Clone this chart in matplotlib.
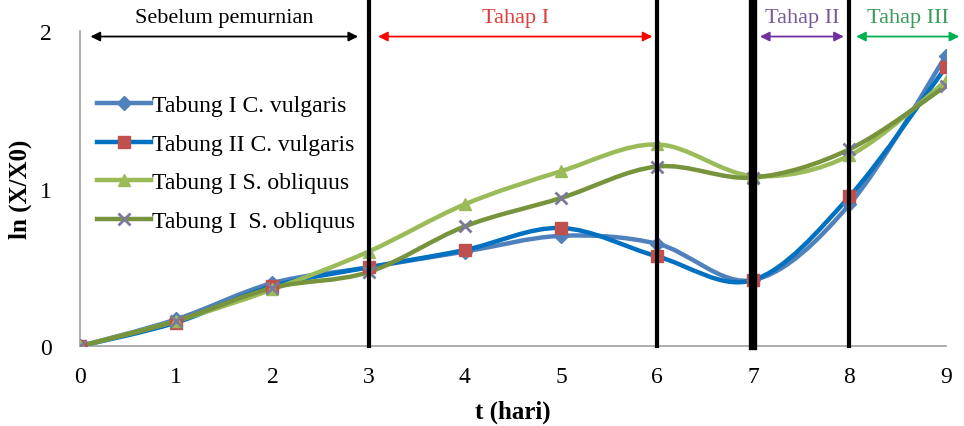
import numpy as np
import matplotlib
matplotlib.use("Agg")
import matplotlib.pyplot as plt
from matplotlib.path import Path
from matplotlib.patches import PathPatch
from matplotlib.lines import Line2D

plt.rcParams['font.family'] = ['Liberation Serif', 'DejaVu Serif']

# data
t = [0, 1, 2, 3, 4, 5, 6, 7, 8, 9]
cv1 = [0.0, 0.17, 0.40, 0.50, 0.60, 0.70, 0.65, 0.42, 0.90, 1.84]
cv2 = [0.0, 0.15, 0.38, 0.50, 0.61, 0.75, 0.57, 0.42, 0.95, 1.77]
so1 = [0.0, 0.16, 0.36, 0.60, 0.90, 1.11, 1.28, 1.08, 1.21, 1.68]
so2 = [0.0, 0.16, 0.37, 0.47, 0.76, 0.94, 1.14, 1.07, 1.25, 1.65]
labels = ['Tabung I C. vulgaris', 'Tabung II C. vulgaris',
          'Tabung I S. obliquus', 'Tabung I  S. obliquus']

stage_lines = [3, 6, 7, 8]
stage_names = ['Sebelum pemurnian', 'Tahap I', 'Tahap II', 'Tahap III']
stage_ranges = [(0.08, 2.92), (3.07, 5.98), (7.04, 7.97), (8.04, 9.17)]
arrow_cols = ['black', '#FF0000', '#7030A0', '#00B050']
text_cols = ['black', '#E03C3C', '#7A5A9A', '#3A9A5A']


def smooth_path(x, y):
    # excel-like smoothed line: catmull-rom segments as cubic bezier
    pts = np.column_stack([x, y]).astype(float)
    n = len(pts)
    verts = [pts[0]]
    codes = [Path.MOVETO]
    for i in range(n - 1):
        p0 = pts[i - 1] if i > 0 else pts[i]
        p1 = pts[i]
        p2 = pts[i + 1]
        p3 = pts[i + 2] if i + 2 < n else pts[i + 1]
        c1 = p1 + (p2 - p0) / 6
        c2 = p2 - (p3 - p1) / 6
        verts += [c1, c2, p2]
        codes += [Path.CURVE4] * 3
    return Path(verts, codes)


fig = plt.figure(figsize=(9.64, 4.27), dpi=100)
ax = fig.add_axes([0.083, 0.187, 0.898, 0.738])

series = [
    (cv1, '#4F81BD', 'D', '#4F81BD', 7),
    (cv2, '#0070C0', 's', '#C0504D', 8),
    (so1, '#9BBB59', '^', '#9BBB59', 8),
    (so2, '#77933C', 'x', '#7D7A99', 8),
]

handles = []
for (vals, lc, mk, mc, ms), lab in zip(series, labels):
    ax.add_patch(PathPatch(smooth_path(t, vals), facecolor='none',
                           edgecolor=lc, lw=3.2, zorder=3))
    ax.plot(t, vals, linestyle='none', marker=mk, color=mc, ms=ms,
            mew=2 if mk == 'x' else 1, zorder=4)
    handles.append(Line2D([], [], color=lc, lw=3.2, marker=mk,
                          markerfacecolor=mc, markeredgecolor=mc, ms=ms,
                          mew=2 if mk == 'x' else 1))

for xv in stage_lines:
    ax.plot([xv, xv], [0, 2.25], color='black', lw=6 if xv == 7 else 3,
            clip_on=False, zorder=5)

for (x0, x1), name, c, tc in zip(stage_ranges, stage_names, arrow_cols, text_cols):
    ax.annotate('', xy=(x0, 1.965), xytext=(x1, 1.965),
                arrowprops=dict(arrowstyle='<|-|>', color=c, lw=1.3,
                                mutation_scale=14),
                annotation_clip=False)
    ax.text((x0 + x1) / 2, 2.025, name, ha='center', va='bottom',
            fontsize=16, color=tc, clip_on=False)

ax.set_xlim(0, 9)
ax.set_ylim(0, 2)
ax.set_xticks(t)
ax.set_yticks([0, 1, 2])
ax.tick_params(length=0, labelsize=17)
ax.tick_params(axis='x', pad=14)
ax.tick_params(axis='y', pad=20)
for s in ['top', 'right']:
    ax.spines[s].set_visible(False)
for s in ['left', 'bottom']:
    ax.spines[s].set_color('#A0A0A0')
    ax.spines[s].set_linewidth(1.2)

ax.set_xlabel('t (hari)', fontsize=18, fontweight='bold', labelpad=9)
ax.set_ylabel('ln (X/X0)', fontsize=18, fontweight='bold', labelpad=6)

ax.legend(handles, labels, loc='upper left', bbox_to_anchor=(0.0, 0.85),
          frameon=False, fontsize=17, labelspacing=0.72, handlelength=2.3,
          handletextpad=0.05, borderaxespad=0.3)

fig.savefig('out.png', dpi=100)
